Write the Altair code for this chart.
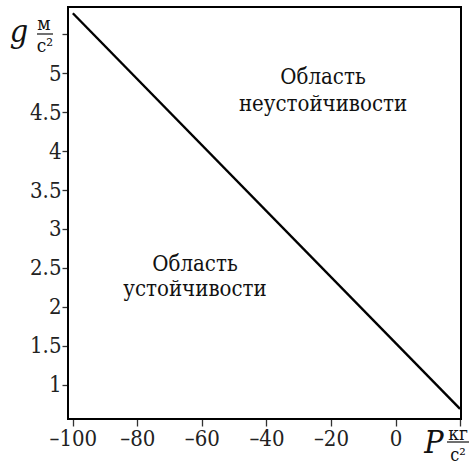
import altair as alt
import pandas as pd

# data
p_vals = [-100, 20]
g_vals = [5.77, 0.69]
x_ticks = [-100, -80, -60, -40, -20, 0, 20]
y_ticks = [1, 1.5, 2, 2.5, 3, 3.5, 4, 4.5, 5, 5.5]
top_label = "Область\nнеустойчивости"
bottom_label = "Область\nустойчивости"

df = pd.DataFrame({"P": p_vals, "g": g_vals})

FONT = "DejaVu Serif Condensed"
W, H = 393, 412

xs = alt.Scale(domain=[-101.5, 20.3], nice=False, zero=False)
ys = alt.Scale(domain=[0.56, 5.85], nice=False, zero=False)

line = alt.Chart(df).mark_line(color="black", strokeWidth=2.4, clip=True).encode(
    x=alt.X("P:Q", scale=xs, axis=alt.Axis(
        values=x_ticks, title=None, grid=False, domain=False,
        labelExpr="datum.value == 20 ? '' : (datum.value < 0 ? '–' + format(-datum.value, 'd') : format(datum.value, 'd'))",
        labelFont=FONT, labelFontSize=22, labelColor="#222", labelPadding=2,
        tickSize=7, tickColor="#333", tickWidth=1.3, labelFlush=False)),
    y=alt.Y("g:Q", scale=ys, axis=alt.Axis(
        values=y_ticks, title=None, grid=False, domain=False,
        labelExpr="datum.value == 5.5 ? '' : format(datum.value, '')",
        labelFont=FONT, labelFontSize=22, labelColor="#222", labelPadding=1,
        tickSize=6, tickColor="#333", tickWidth=1.3, labelFlush=False)),
)

frame = alt.Chart(df.head(1)).mark_rect(fill=None, stroke="black", strokeWidth=2).encode(
    x=alt.value(0), x2=alt.value(W), y=alt.value(0), y2=alt.value(H))

def txt(text, x, y, size=22, style="normal", align="center", lb=None, lh=None, font=FONT):
    kw = dict(font=font, fontSize=size, fontStyle=style, color="#111",
              align=align, baseline="middle")
    if lb:
        kw["lineBreak"] = lb
        kw["lineHeight"] = lh
    return alt.Chart(df.head(1)).mark_text(**kw).encode(
        x=alt.value(x), y=alt.value(y), text=alt.value(text))

ann_top = txt(top_label, 255, 70, size=22, lb="\n", lh=27)
ann_bot = txt(bottom_label, 127, 257, size=22, lb="\n", lh=25)

# y axis title: g m/c^2
g_t = txt("g", -49, 25, size=32, style="italic")
g_num = txt("м", -24, 17, size=19)
g_den = txt("с²", -23, 39, size=19)
g_bar = alt.Chart(df.head(1)).mark_rule(color="#111", strokeWidth=1.2).encode(
    x=alt.value(-31), x2=alt.value(-15), y=alt.value(27))

# x axis title: P kg/c^2
p_t = txt("P", 366, 436, size=32, style="italic")
p_num = txt("кг", 390, 427, size=19)
p_den = txt("с²", 390, 449, size=18)
p_bar = alt.Chart(df.head(1)).mark_rule(color="#111", strokeWidth=1.2).encode(
    x=alt.value(379), x2=alt.value(401), y=alt.value(435))

chart = alt.layer(frame, line, ann_top, ann_bot, g_t, g_num, g_den, g_bar,
                  p_t, p_num, p_den, p_bar).properties(
    width=W, height=H,
    autosize=alt.AutoSizeParams(type="none"),
    padding={"left": 68, "top": 7, "right": 12, "bottom": 48},
).configure_view(stroke=None).configure(background="white")

chart.save("out.html", embed_options={"renderer": "svg", "actions": False})
